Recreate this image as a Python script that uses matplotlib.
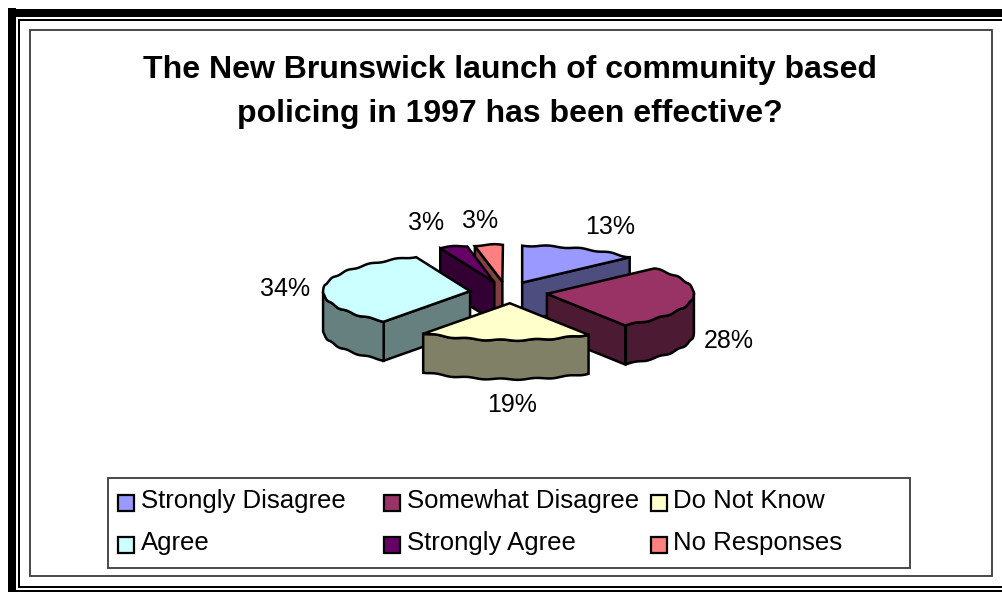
import numpy as np
import matplotlib
matplotlib.use("Agg")
import matplotlib.pyplot as plt
from matplotlib.patches import Polygon, Rectangle

plt.rcParams["font.family"] = ["Liberation Sans", "DejaVu Sans"]

title = "The New Brunswick launch of community based\npolicing in 1997 has been effective?"
categories = ["Strongly Disagree", "Somewhat Disagree", "Do Not Know",
              "Agree", "Strongly Agree", "No Responses"]
percent = [13, 28, 19, 34, 3, 3]
top_colors = ["#9999FF", "#993366", "#FFFFCC", "#CCFFFF", "#660066", "#FF8080"]
side_colors = ["#4D4D80", "#4D1A33", "#808066", "#668080", "#330033", "#804040"]
label_pos = [(610, 227), (729, 341), (512, 405), (285, 289), (426, 223), (480, 221)]

# Pie geometry in canvas pixels
CX, CY = 508, 292.5
RX, RY = 147, 37
DEPTH = 39
EXPLODE_X, EXPLODE_Y = 0.26, 0.29
NUDGE_X = [-1, 1, 3, 0, -3, -2]
EDGE = 1.8

fig = plt.figure(figsize=(10.02, 5.92), dpi=100)
ax = fig.add_axes([0, 0, 1, 1])
ax.set_xlim(0, 1002)
ax.set_ylim(592, 0)
ax.axis("off")

# Nested page frame: thick and thin rules, open on the right
for x0, y0, w, h in [(8, 8, 8, 584), (8, 9, 994, 8), (18, 19, 2, 569),
                     (18, 19, 984, 2), (18, 586, 984, 2), (8, 590, 994, 2)]:
    ax.add_patch(Rectangle((x0, y0), w, h, fc="black", ec="none"))
ax.add_patch(Rectangle((30, 30), 962, 546, fc="white", ec="#3a3a3a", lw=1.3))

ax.text(510, 92, title, ha="center", va="center", fontsize=23,
        fontweight="bold", linespacing=1.63, color="black")


def rim(a0, a1, cx, cy):
    """Scalloped outer edge between two clockwise-from-north angles."""
    t = np.radians(np.arange(a0, a1 + 0.25, 0.5))
    ripple = 0.7 * np.sin(t * 27)
    return np.column_stack([cx + RX * np.sin(t), cy - RY * np.cos(t) + ripple])


def extrude(points):
    """Closed side face hanging below a run of top-edge points."""
    below = points[::-1] + [0, DEPTH]
    return np.vstack([points, below])


bounds = np.concatenate([[0], np.cumsum(percent)]) * 3.6
slices = []
for i, pct in enumerate(percent):
    a0, a1 = bounds[i], bounds[i + 1]
    mid = np.radians((a0 + a1) / 2)
    cx = CX + EXPLODE_X * RX * np.sin(mid) + NUDGE_X[i]
    cy = CY - EXPLODE_Y * RY * np.cos(mid)
    slices.append((i, a0, a1, cx, cy))

# Painter's order, back of the pie first
for i in [5, 4, 0, 3, 1, 2]:
    _, a0, a1, cx, cy = slices[i]
    style = dict(fc=side_colors[i], ec="black", lw=EDGE, joinstyle="miter")
    apex = np.array([[cx, cy]])
    edge = rim(a0, a1, cx, cy)
    if np.sin(np.radians(a0)) < 0:
        ax.add_patch(Polygon(extrude(np.vstack([apex, edge[:1]])), **style))
    if np.sin(np.radians(a1)) > 0:
        ax.add_patch(Polygon(extrude(np.vstack([apex, edge[-1:]])), **style))
    lo, hi = max(a0, 90), min(a1, 270)
    if hi > lo:
        ax.add_patch(Polygon(extrude(rim(lo, hi, cx, cy)), **style))
    ax.add_patch(Polygon(np.vstack([apex, edge]), fc=top_colors[i], ec="black",
                         lw=EDGE, joinstyle="miter"))

for pct, (x, y) in zip(percent, label_pos):
    ax.text(x, y, f"{pct}%", ha="center", va="center", fontsize=18, color="black")

# Legend panel
ax.add_patch(Rectangle((108, 478), 802, 90, fc="white", ec="#3a3a3a", lw=1.3))
swatch_x = [118, 384, 651]
text_x = [141, 407, 673]
row_y = [502.5, 544.5]
for i, name in enumerate(categories):
    col, row = i % 3, i // 3
    ax.add_patch(Rectangle((swatch_x[col], row_y[row] - 8), 16, 16,
                           fc=top_colors[i], ec="black", lw=1.6))
    ax.text(text_x[col], row_y[row] - 1.5, name, ha="left", va="center",
            fontsize=18.5, color="black")

fig.savefig("out.png", dpi=100)
